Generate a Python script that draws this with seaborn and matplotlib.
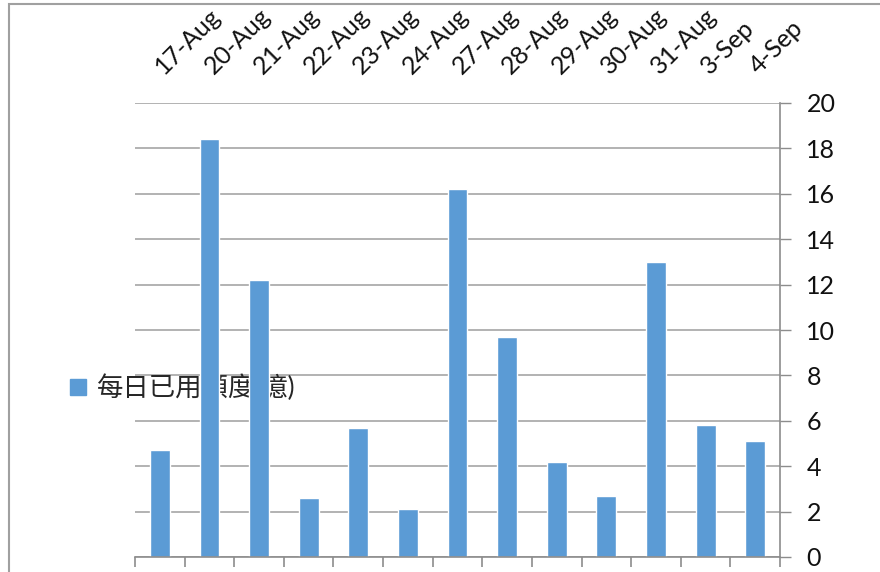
import numpy as np
import pandas as pd
import matplotlib
matplotlib.use('Agg')
import matplotlib.pyplot as plt
import matplotlib.patches as mpatches
import matplotlib.transforms as mtransforms
import seaborn as sns

# Data
dates = ['17-Aug', '20-Aug', '21-Aug', '22-Aug', '23-Aug', '24-Aug', '27-Aug',
         '28-Aug', '29-Aug', '30-Aug', '31-Aug', '3-Sep', '4-Sep']
used_quota = [4.7, 18.4, 12.2, 2.6, 5.7, 2.1, 16.2, 9.7, 4.2, 2.7, 13.0, 5.8, 5.1]
series_name = '每日已用額度(億)'
y_ticks = list(range(0, 21, 2))

df = pd.DataFrame({'date': dates, 'value': used_quota})

sns.set_style('white')
plt.rcParams['font.family'] = ['Lato', 'Noto Sans CJK TC', 'DejaVu Sans']

bar_color = '#5B9BD5'
axis_color = '#8c8c8c'
grid_color = '#a6a6a6'

fig = plt.figure(figsize=(8.8, 5.72), dpi=100)
ax = fig.add_axes([135 / 880, 15 / 572, 645 / 880, 454 / 572])

sns.barplot(data=df, x='date', y='value', color=bar_color, saturation=1,
            width=0.4, ax=ax, zorder=2)

ax.set_ylim(0, 20)
ax.set_xlim(-0.5, len(dates) - 0.5)
ax.set_yticks(y_ticks)
ax.set_xlabel('')
ax.set_ylabel('')

# y axis on the right
ax.yaxis.tick_right()
ax.tick_params(axis='y', direction='out', length=8, width=1, color=axis_color,
               labelsize=18, pad=11, labelcolor='#111111')
ax.yaxis.grid(True, color=grid_color, linewidth=1.2)
ax.set_axisbelow(True)

# category labels on top, separator ticks at the bottom
ax.tick_params(axis='x', which='major', bottom=False, top=False,
               labelbottom=False, labeltop=True, length=0, labelsize=18,
               pad=18, labelcolor='#111111')
shift = mtransforms.ScaledTranslation(7 / 100, 0, fig.dpi_scale_trans)
for lab in ax.get_xticklabels():
    lab.set_rotation(45)
    lab.set_ha('left')
    lab.set_va('bottom')
    lab.set_rotation_mode('anchor')
    lab.set_transform(lab.get_transform() + shift)
ax.set_xticks(np.arange(-0.5, len(dates)), minor=True)
ax.tick_params(axis='x', which='minor', bottom=True, top=False, direction='out',
               length=7, width=1.2, color=axis_color)

for side in ['left', 'top']:
    ax.spines[side].set_visible(False)
for side in ['right', 'bottom']:
    ax.spines[side].set_color(axis_color)
    ax.spines[side].set_linewidth(1.2)

# legend sitting left of the plot area, behind the bars
handle = mpatches.Patch(color=bar_color, label=series_name)
leg = ax.legend(handles=[handle], loc='center left', frameon=False,
                bbox_to_anchor=(46 / 880, (572 - 388) / 572),
                bbox_transform=fig.transFigure, fontsize=19,
                handlelength=0.6, handleheight=0.6, handletextpad=0.45)
leg.set_zorder(1)

# outer chart border
border = mpatches.Rectangle((8.5 / 880, -0.1), 1.2, 1 - 4 / 572 + 0.1,
                            transform=fig.transFigure, fill=False,
                            edgecolor='#a0a0a0', linewidth=1.5)
fig.patches.append(border)

fig.savefig('out.png', dpi=100)
